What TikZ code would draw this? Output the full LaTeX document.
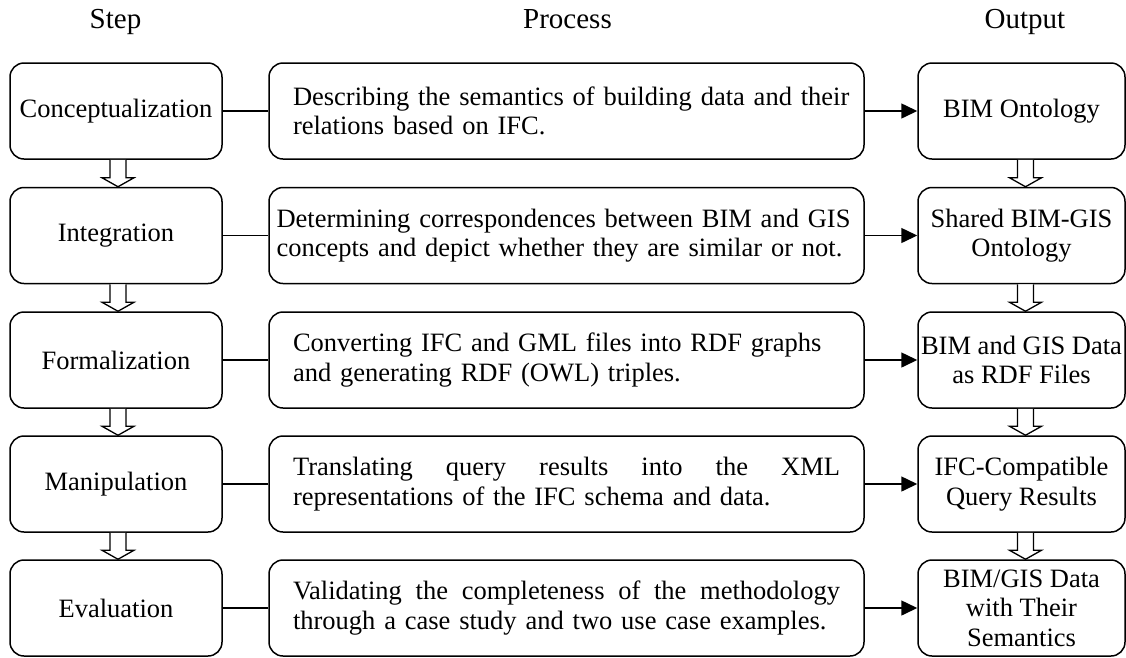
\documentclass[tikz,border=0pt]{standalone}
\usepackage{fontspec}
\setmainfont{Liberation Serif}
\usetikzlibrary{arrows.meta,calc}

% Hollow block arrow pointing down from one node to the next (#3 = x shift)
\newcommand\hollowdown[3]{%
  \draw[hollow] let \p1=($(#1.south)+(#3,0)$), \p2=($(#2.north)+(#3,0)$) in
    (\x1-8pt,\y1) -- (\x1-8pt,\y2+9pt) -- (\x1-16pt,\y2+9pt) -- (\x1,\y2)
    -- (\x1+16pt,\y2+9pt) -- (\x1+8pt,\y2+9pt) -- (\x1+8pt,\y1);}

% a line set to the full measure of the process text (stretchable spaces)
\newcommand\fullline[1]{\makebox[547pt][s]{\spaceskip=0pt\xspaceskip=0pt #1}}

\begin{document}
\begin{tikzpicture}[x=1pt,y=1pt,
  box/.style={draw, line width=1.5pt, rounded corners=14pt, minimum height=96pt,
    inner sep=0pt, font=\fontsize{26.5}{29.5}\selectfont},
  stepbox/.style={box, minimum width=212pt},
  procbox/.style={box, minimum width=595pt, text width=547pt, inner xsep=24pt, align=left},
  widebox/.style={box, minimum width=595pt, text width=580pt, inner xsep=7.5pt, align=left},
  outbox/.style={box, minimum width=207pt, align=center},
  head/.style={font=\fontsize{29}{33}\selectfont, anchor=base},
  link/.style={line width=1.5pt},
  feed/.style={line width=1.5pt, -{Triangle[length=16pt,width=15pt]}},
  hollow/.style={draw, line width=1.3pt, fill=white, line join=miter}
]
\useasboundingbox (0,0) rectangle (1126,-657);

% column headings
\node[head] (hstep) at (115.5,-28) {Step};
\node[head] (hproc) at (567.5,-28) {Process};
\node[head] (hout)  at (1025,-28)  {Output};

% steps
\node[stepbox] (s1) at (116,-111)   {Conceptualization};
\node[stepbox] (s2) at (116,-235.5) {Integration};
\node[stepbox] (s3) at (116,-360)   {Formalization};
\node[stepbox] (s4) at (116,-484)   {Manipulation};
\node[stepbox] (s5) at (116,-608)   {Evaluation};

% processes
\node[procbox] (p1) at (566.5,-111)
  {\mbox{Describing the semantics of building data and their}\\relations based on IFC.};
\node[widebox] (p2) at (566.5,-235.5)
  {Determining correspondences between BIM and GIS\\concepts and depict whether they are similar or not.};
\node[procbox] (p3) at (566.5,-360)
  {Converting IFC and GML files into RDF graphs\\and generating RDF (OWL) triples.};
\node[procbox] (p4) at (566.5,-484)
  {\fullline{Translating query results into the XML}\\representations of the IFC schema and data.};
\node[procbox] (p5) at (566.5,-608)
  {\fullline{Validating the completeness of the methodology}\\through a case study and two use case examples.};

% outputs
\node[outbox] (o1) at (1021.5,-111)   {BIM Ontology};
\node[outbox] (o2) at (1021.5,-235.5) {Shared BIM-GIS\\Ontology};
\node[outbox] (o3) at (1021.5,-360)   {BIM and GIS Data\\as RDF Files};
\node[outbox] (o4) at (1021.5,-484)   {IFC-Compatible\\Query Results};
\node[outbox] (o5) at (1021.5,-608)   {BIM/GIS Data\\with Their\\Semantics};

% horizontal connectors
\foreach \i in {1,...,5} {
  \draw[link] (s\i.east) -- (p\i.west);
  \draw[feed] (p\i.east) -- (o\i.west);
}

% vertical block arrows
\hollowdown{s1}{s2}{2}
\hollowdown{s2}{s3}{2}
\hollowdown{s3}{s4}{2}
\hollowdown{s4}{s5}{2}
\hollowdown{o1}{o2}{4}
\hollowdown{o2}{o3}{4}
\hollowdown{o3}{o4}{4}
\hollowdown{o4}{o5}{4}
\end{tikzpicture}
\end{document}
